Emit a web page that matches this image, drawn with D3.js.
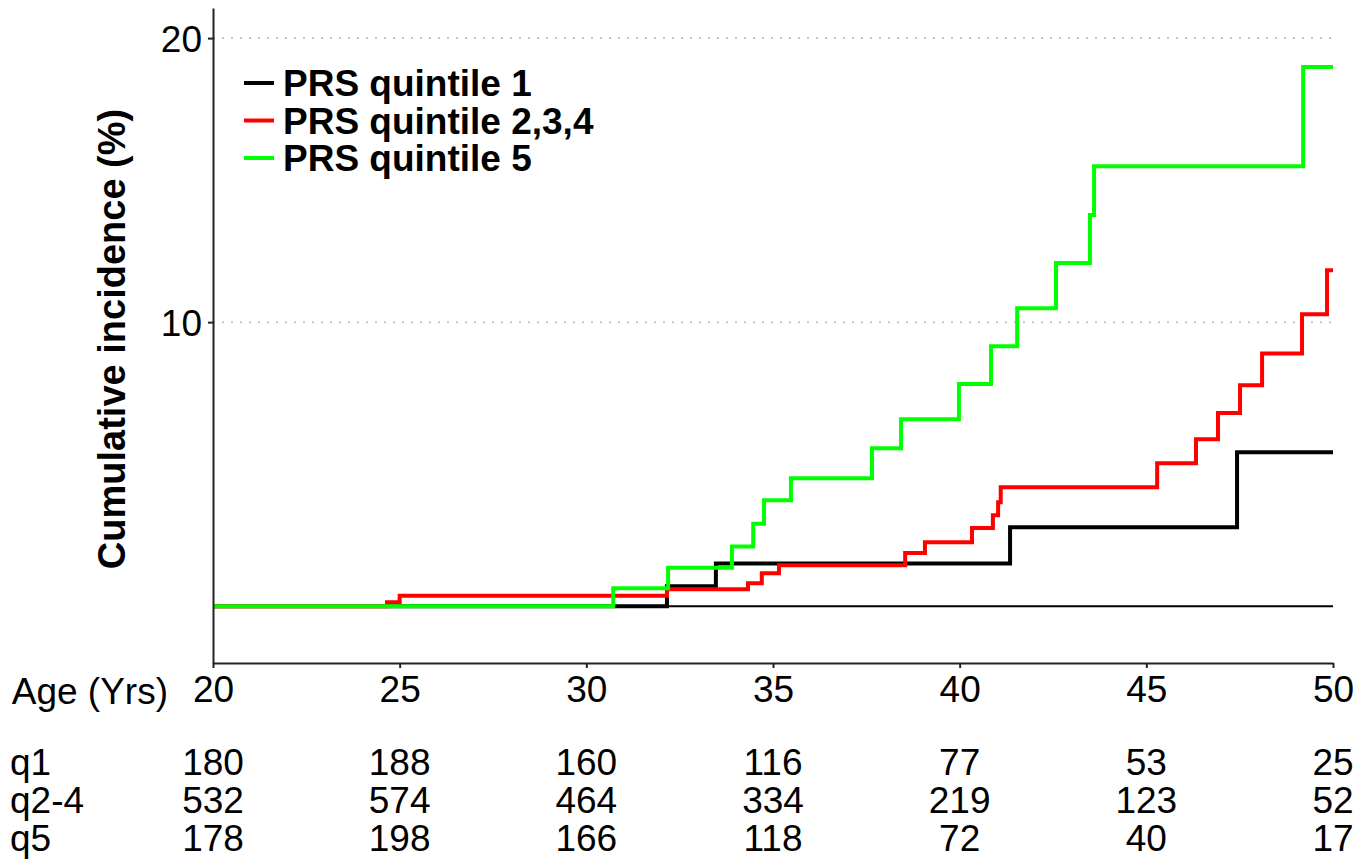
<!doctype html>
<html lang="en">
  <head>
    <meta charset="utf-8">
    <title>Cumulative incidence by PRS quintile</title>
    <style>
      body { margin: 0; background: #fff; }
      svg text { font-family: "Liberation Sans", Arial, Helvetica, sans-serif; fill: #000; }
    </style>
  </head>
  <body>
    <script src="https://cdn.jsdelivr.net/npm/d3@7"></script>
    <script>

// step curves (age in years, cumulative incidence in %)
var ageQ1 = [20, 32.16, 33.47, 41.35, 47.43, 50];
var cumQ1 = [0, 0.7, 1.5, 2.78, 5.42, 5.42];

var ageQ24 = [20, 24.66, 25.0, 32.16, 34.33, 34.7, 35.16, 38.54, 39.07, 40.33, 40.89, 41.03, 41.1,
              45.29, 46.33, 46.92, 47.51, 48.1, 49.17, 49.84, 50];
var cumQ24 = [0, 0.14, 0.37, 0.6, 0.81, 1.16, 1.44, 1.87, 2.25, 2.75, 3.2, 3.66, 4.19,
              5.03, 5.88, 6.8, 7.78, 8.9, 10.28, 11.83, 11.83];

var ageQ5 = [20, 30.72, 32.19, 33.9, 34.47, 34.76, 35.48, 37.65, 38.43, 39.98, 40.84, 41.54,
             42.58, 43.49, 43.6, 49.2, 50];
var cumQ5 = [0, 0.63, 1.35, 2.1, 2.9, 3.73, 4.5, 5.56, 6.58, 7.82, 9.15, 10.49,
             12.08, 13.77, 15.49, 18.98, 18.98];

var legendLabels = ["PRS quintile 1", "PRS quintile 2,3,4", "PRS quintile 5"];
var colors = ["#000000", "#ff0000", "#00ff00"];

var xTicks = [20, 25, 30, 35, 40, 45, 50];
var yTicks = [10, 20];

// numbers at risk
var riskLabels = ["q1", "q2-4", "q5"];
var riskQ1  = [180, 188, 160, 116, 77, 53, 25];
var riskQ24 = [532, 574, 464, 334, 219, 123, 52];
var riskQ5  = [178, 198, 166, 118, 72, 40, 17];

var width = 1369, height = 867;

var svg = d3.select("body")
    .append("svg")
    .attr("width", width)
    .attr("height", height);

var x = d3.scaleLinear().domain([20, 50]).range([213, 1333]);
var y = d3.scaleLinear().domain([-2, 21.06]).range([663, 8]);

// dotted grid
svg.selectAll(".grid")
   .data(yTicks)
   .enter()
   .append("line")
   .attr("x1", x(20)).attr("x2", x(50))
   .attr("y1", function(d){ return y(d); })
   .attr("y2", function(d){ return y(d); })
   .attr("stroke", "#c4c4c4")
   .attr("stroke-width", 2)
   .attr("stroke-dasharray", "2,7");

// reference line at zero
svg.append("line")
   .attr("x1", x(20)).attr("x2", x(50))
   .attr("y1", y(0)).attr("y2", y(0))
   .attr("stroke", "#000")
   .attr("stroke-width", 2);

var line = d3.line()
    .x(function(d){ return x(d[0]); })
    .y(function(d){ return y(d[1]); })
    .curve(d3.curveStepAfter);

var series = [d3.zip(ageQ1, cumQ1), d3.zip(ageQ24, cumQ24), d3.zip(ageQ5, cumQ5)];

svg.selectAll(".curve")
   .data(series)
   .enter()
   .append("path")
   .attr("d", line)
   .attr("fill", "none")
   .attr("stroke", function(d, i){ return colors[i]; })
   .attr("stroke-width", 4)
   .attr("stroke-linejoin", "miter")
   .attr("stroke-linecap", "butt");

// y axis
var yAxis = svg.append("g")
   .attr("transform", "translate(" + x(20) + ",0)")
   .call(d3.axisLeft(y).tickValues(yTicks).tickSize(5).tickSizeOuter(0).tickPadding(6));
yAxis.selectAll("text").style("font-size", "37px").attr("dy", "0.36em");
yAxis.selectAll("path, line").attr("stroke", "#222").attr("stroke-width", 2);

// x axis
var xAxis = svg.append("g")
   .attr("transform", "translate(0," + y(-2) + ")")
   .call(d3.axisBottom(x).tickValues(xTicks).tickSize(5).tickSizeOuter(0).tickPadding(8));
xAxis.selectAll("text").style("font-size", "37px").attr("dy", "0.71em");
xAxis.selectAll("path, line").attr("stroke", "#222").attr("stroke-width", 2);

svg.append("text")
   .attr("x", 168)
   .attr("y", 704)
   .attr("text-anchor", "end")
   .style("font-size", "37px")
   .text("Age (Yrs)");

svg.append("text")
   .attr("transform", "translate(125,339) rotate(-90)")
   .attr("text-anchor", "middle")
   .style("font-size", "38px")
   .style("font-weight", "bold")
   .text("Cumulative incidence (%)");

// legend
var legend = svg.selectAll(".legend")
   .data(legendLabels)
   .enter()
   .append("g")
   .attr("transform", function(d, i){ return "translate(244," + (83 + i * 37.5) + ")"; });

legend.append("line")
   .attr("x1", 0).attr("x2", 30)
   .attr("stroke", function(d, i){ return colors[i]; })
   .attr("stroke-width", 4);

legend.append("text")
   .attr("x", 39)
   .attr("dy", "0.36em")
   .style("font-size", "37px")
   .style("font-weight", "bold")
   .text(function(d){ return d; });

// numbers at risk table
var risk = [riskQ1, riskQ24, riskQ5];
var rows = svg.selectAll(".risk")
   .data(risk)
   .enter()
   .append("g")
   .attr("transform", function(d, i){ return "translate(0," + (775 + i * 38) + ")"; });

rows.append("text")
   .attr("x", 10)
   .style("font-size", "37px")
   .text(function(d, i){ return riskLabels[i]; });

rows.selectAll(".n")
   .data(function(d){ return d; })
   .enter()
   .append("text")
   .attr("x", function(d, j){ return x(xTicks[j]); })
   .attr("text-anchor", "middle")
   .style("font-size", "37px")
   .text(function(d){ return d; });

    </script>
  </body>
</html>
